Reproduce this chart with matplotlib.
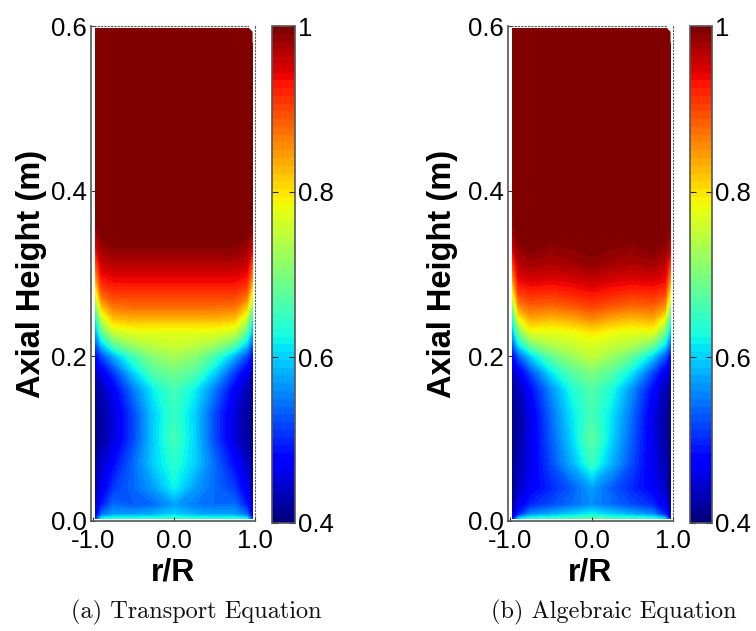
import matplotlib
matplotlib.use('Agg')
import matplotlib.pyplot as plt
import numpy as np
from matplotlib.patches import Polygon

plt.rcParams['font.family'] = ['Liberation Sans', 'DejaVu Sans']

r_pos = [-0.97, -0.90, -0.75, -0.5, -0.25, 0.0, 0.25, 0.5, 0.75, 0.90, 0.97]
z_pos = [0.003, 0.008, 0.02, 0.04, 0.07, 0.10, 0.13, 0.16, 0.18, 0.20, 0.215,
         0.23, 0.245, 0.26, 0.275, 0.29, 0.31, 0.335, 0.36, 0.597]

# void fraction, rows go up the column
transport = [
    [.50, .62, .64, .64, .64, .65, .64, .64, .64, .62, .50],
    [.46, .54, .57, .57, .58, .60, .58, .57, .57, .54, .46],
    [.44, .49, .54, .53, .54, .57, .55, .54, .54, .49, .44],
    [.43, .46, .51, .54, .57, .62, .57, .54, .51, .46, .43],
    [.42, .44, .48, .54, .60, .64, .60, .54, .48, .44, .42],
    [.41, .42, .45, .52, .60, .66, .60, .52, .45, .42, .41],
    [.41, .42, .45, .52, .60, .65, .60, .52, .45, .42, .41],
    [.42, .43, .47, .55, .62, .66, .62, .55, .47, .43, .42],
    [.44, .46, .51, .60, .67, .69, .67, .60, .51, .46, .44],
    [.48, .52, .58, .66, .71, .73, .71, .66, .58, .52, .48],
    [.53, .60, .68, .73, .75, .76, .75, .73, .68, .60, .53],
    [.58, .68, .76, .775, .775, .775, .775, .775, .76, .68, .58],
    [.62, .75, .82, .83, .83, .83, .83, .83, .82, .75, .62],
    [.70, .82, .87, .875, .875, .875, .875, .875, .87, .82, .70],
    [.77, .88, .905, .905, .905, .905, .905, .905, .905, .88, .77],
    [.83, .92, .935, .935, .935, .935, .935, .935, .935, .92, .83],
    [.89, .955, .965, .965, .965, .965, .965, .965, .965, .955, .89],
    [.95, .985, .995, .995, .995, .995, .995, .995, .995, .985, .95],
    [.99, 1, 1, 1, 1, 1, 1, 1, 1, 1, .99],
    [1, 1, 1, 1, 1, 1, 1, 1, 1, 1, 1],
]
algebraic = [
    [.48, .60, .64, .65, .66, .67, .66, .65, .64, .60, .48],
    [.44, .50, .56, .58, .60, .62, .60, .58, .56, .50, .44],
    [.42, .46, .50, .52, .54, .56, .54, .52, .50, .46, .42],
    [.41, .44, .47, .50, .53, .57, .53, .50, .47, .44, .41],
    [.41, .43, .46, .52, .58, .65, .58, .52, .46, .43, .41],
    [.41, .42, .46, .53, .60, .68, .60, .53, .46, .42, .41],
    [.41, .42, .46, .54, .61, .66, .61, .54, .46, .42, .41],
    [.42, .43, .48, .56, .63, .67, .63, .56, .48, .43, .42],
    [.44, .46, .52, .61, .67, .70, .67, .61, .52, .46, .44],
    [.48, .53, .60, .68, .72, .75, .72, .68, .60, .53, .48],
    [.54, .62, .70, .74, .755, .77, .755, .74, .70, .62, .54],
    [.59, .70, .78, .775, .785, .80, .785, .775, .78, .70, .59],
    [.64, .78, .835, .825, .835, .855, .835, .825, .835, .78, .64],
    [.71, .85, .88, .875, .885, .90, .885, .875, .88, .85, .71],
    [.78, .90, .915, .91, .92, .93, .92, .91, .915, .90, .78],
    [.84, .935, .945, .94, .945, .955, .945, .94, .945, .935, .84],
    [.90, .965, .975, .97, .975, .985, .975, .97, .975, .965, .90],
    [.96, .99, 1, .99, .995, 1, .995, .99, 1, .99, .96],
    [.99, 1, 1, 1, 1, 1, 1, 1, 1, 1, .99],
    [1, 1, 1, 1, 1, 1, 1, 1, 1, 1, 1],
]

W, H = 756.0, 631.0
x_ticks = [-1.0, 0.0, 1.0]
y_ticks = [0.0, 0.2, 0.4, 0.6]
cb_ticks = [0.4, 0.6, 0.8, 1.0]
cb_labels = ['0.4', '0.6', '0.8', '1']
levels = np.linspace(0.4, 1.0, 65)


def px_axes(fig, left, right, top, bottom):
    return fig.add_axes([left / W, 1 - bottom / H, (right - left) / W, (bottom - top) / H])


def draw_panel(fig, values, ax_box, cb_box, caption, cap_x, ypad):
    ax = px_axes(fig, *ax_box)
    ax.contourf(r_pos, z_pos, np.array(values), levels=levels,
                cmap=plt.get_cmap('jet', 64), extend='both')
    # clipped corner at the top right of the contour
    ax.add_patch(Polygon([[0.926, 0.6], [1.0, 0.6], [1.0, 0.58], [0.97, 0.58], [0.97, 0.593], [0.926, 0.5975]],
                         closed=True, fc='white', ec='none', zorder=3))
    ax.set_xlim(-1.03, 1.0)
    ax.set_ylim(0, 0.6)
    ax.set_xticks(x_ticks)
    ax.set_xticklabels(['%.1f' % v for v in x_ticks])
    ax.set_yticks(y_ticks)
    ax.set_yticklabels(['%.1f' % v for v in y_ticks])
    ax.tick_params(direction='in', length=3, width=0.8, color='#333333',
                   labelsize=18.5, labelcolor='black')
    ax.tick_params(axis='x', pad=6)
    ax.tick_params(axis='y', pad=3)
    ax.spines['left'].set_color('#555555')
    ax.spines['bottom'].set_color('#555555')
    ax.spines['left'].set_linewidth(1.2)
    ax.spines['bottom'].set_linewidth(1.2)
    for side in ['top', 'right']:
        ax.spines[side].set_linestyle((0, (1, 2)))
        ax.spines[side].set_color('#555555')
        ax.spines[side].set_linewidth(0.8)
    ax.set_xlabel('r/R', fontsize=23, fontweight='bold', labelpad=3)
    ax.set_ylabel('Axial Height (m)', fontsize=23.5, fontweight='bold', labelpad=ypad)

    cax = px_axes(fig, *cb_box)
    sm = plt.cm.ScalarMappable(cmap=plt.get_cmap('jet', 64), norm=plt.Normalize(0.4, 1.0))
    cb = fig.colorbar(sm, cax=cax)
    cb.set_ticks(cb_ticks)
    cb.set_ticklabels(cb_labels)
    cax.tick_params(direction='in', length=4, width=0.8, color='#222222',
                    labelsize=18.5, pad=2, left=True, right=True)
    cb.outline.set_edgecolor('#555555')
    cb.outline.set_linewidth(1.2)

    fig.text(cap_x / W, 1 - 612 / H, caption, family='cmr10', fontsize=17.5,
             ha='center', va='center', color='#111111')


fig = plt.figure(figsize=(7.56, 6.31), dpi=100)
draw_panel(fig, transport, (91, 255, 26, 521), (272, 295, 26, 523), '(a) Transport Equation', 196, 3)
draw_panel(fig, algebraic, (508, 673, 26, 521), (690, 712, 26, 523), '(b) Algebraic Equation', 614, 7)
fig.savefig('out.png', dpi=100)
